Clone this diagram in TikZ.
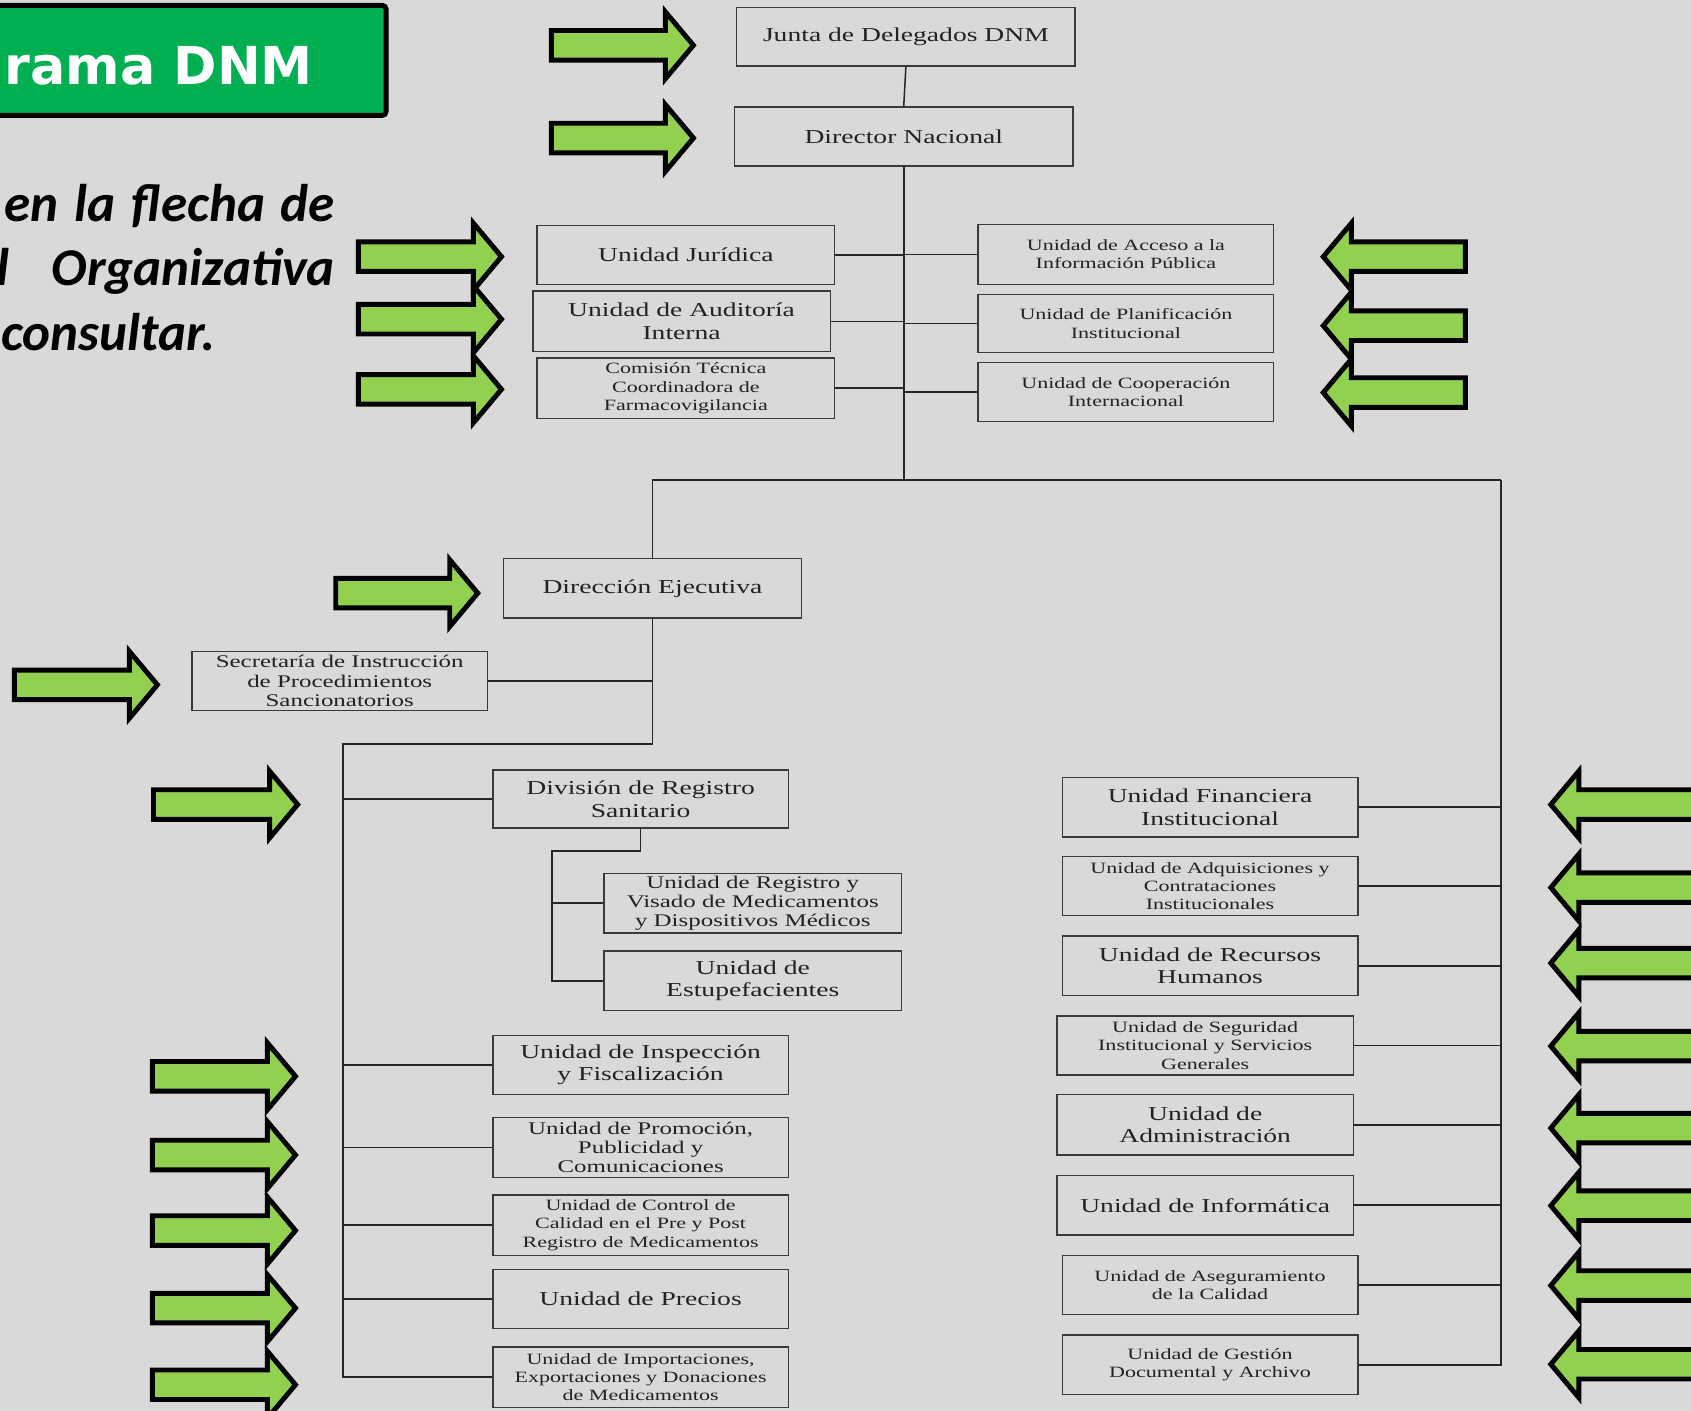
\documentclass[tikz,border=0pt]{standalone}
\usepackage{fontspec}
\setmainfont{Liberation Serif}
\newfontfamily\orgfont[FakeStretch=1.4]{Liberation Serif}
\newfontfamily\calib{Carlito}
\newfontfamily\titlefont{DejaVu Sans}
\definecolor{bg}{HTML}{D9D9D9}
\definecolor{tgreen}{HTML}{00B050}
\definecolor{agreen}{HTML}{92D050}
\definecolor{boxline}{HTML}{3A3A3A}
\definecolor{txt}{HTML}{222222}
\tikzset{
  orgbox/.style={draw=boxline, line width=0.8pt, inner sep=0pt, align=center, text=txt},
  fontL/.style={font=\orgfont\fontsize{10.4pt}{11.9pt}\selectfont},
  fontM/.style={font=\orgfont\fontsize{9.4pt}{10.2pt}\selectfont},
  fontS/.style={font=\orgfont\fontsize{8.3pt}{9.6pt}\selectfont},
  conn/.style={draw=black!85, line width=0.8pt},
  blockarrow/.style={fill=agreen, draw=black, line width=2.6pt, line join=miter},
  note/.style={font=\calib\bfseries\itshape\fontsize{28pt}{32pt}\selectfont, inner sep=0pt, text=black}
}
\newcommand{\ob}[7]{%
  \node[orgbox,#6, minimum width={(#4-#2)*0.02cm}, minimum height={(#5-#3)*0.02cm}] (#1) at ({(#2+#4)/2},{(#3+#5)/2}) {#7};}
\newcommand{\rarr}[3]{%
  \draw[blockarrow] ({#1+2.3},{#3-13.7}) -- ({#2-29},{#3-13.7}) -- ({#2-29},{#3-31}) -- ({#2-3},#3) -- ({#2-29},{#3+31}) -- ({#2-29},{#3+13.7}) -- ({#1+2.3},{#3+13.7}) -- cycle;}
\newcommand{\larr}[3]{%
  \draw[blockarrow] ({#1-2.3},{#3-13.7}) -- ({#2+29},{#3-13.7}) -- ({#2+29},{#3-31}) -- ({#2+3},#3) -- ({#2+29},{#3+31}) -- ({#2+29},{#3+13.7}) -- ({#1-2.3},{#3+13.7}) -- cycle;}
\begin{document}
\begin{tikzpicture}[x=0.02cm, y=-0.02cm]
\clip (0,0) rectangle (1568,1308);
\fill[bg] (0,0) rectangle (1568,1308);
% title
\draw[fill=tgreen, draw=black, line width=2.6pt, rounded corners=2pt] (-20,5) rectangle (358,107);
\node (title) [anchor=base west, inner sep=0pt, text=white, font=\titlefont\bfseries\fontsize{27.6pt}{32pt}\selectfont] at (4,78) {rama DNM};
\node (l1) [note, anchor=base east] at (311,205) {en\hspace{0.3em}la\hspace{0.3em}flecha\hspace{0.3em}de};
\node (l2a) [note, anchor=base west] at (-4,265) {l};
\node (l2b) [note, anchor=base east] at (311,265) {Organizativa};
\node (l3) [note, anchor=base west] at (1,325) {consultar.};
% boxes
\ob{junta}{683}{7}{997}{61}{fontL}{Junta de Delegados DNM}
\ob{director}{681}{99}{995}{154}{fontL}{Director Nacional}
\ob{jur}{498}{209}{774}{264}{fontL}{Unidad Jurídica}
\ob{aud}{494}{270}{770}{326}{fontL}{Unidad de Auditoría\\Interna}
\ob{com}{498}{332}{774}{388}{fontS}{Comisión Técnica\\Coordinadora de\\Farmacovigilancia}
\ob{acc}{907}{208}{1181}{264}{fontS}{Unidad de Acceso a la\\Información Pública}
\ob{plan}{907}{273}{1181}{327}{fontS}{Unidad de Planificación\\Institucional}
\ob{coop}{907}{336}{1181}{391}{fontS}{Unidad de Cooperación\\Internacional}
\ob{direj}{467}{518}{743}{573}{fontL}{Dirección Ejecutiva}
\ob{secr}{178}{604}{452}{659}{fontM}{Secretaría de Instrucción\\de Procedimientos\\Sancionatorios}
\ob{div}{457}{714}{731}{768}{fontL}{División de Registro\\Sanitario}
\ob{visado}{560}{810}{836}{865}{fontM}{Unidad de Registro y\\Visado de Medicamentos\\y Dispositivos Médicos}
\ob{estup}{560}{882}{836}{937}{fontL}{Unidad de\\Estupefacientes}
\ob{insp}{457}{960}{731}{1015}{fontL}{Unidad de Inspección\\y Fiscalización}
\ob{promo}{457}{1036}{731}{1092}{fontM}{Unidad de Promoción,\\Publicidad y\\Comunicaciones}
\ob{control}{457}{1108}{731}{1164}{fontS}{Unidad de Control de\\Calidad en el Pre y Post\\Registro de Medicamentos}
\ob{precios}{457}{1177}{731}{1232}{fontL}{Unidad de Precios}
\ob{import}{457}{1249}{731}{1305}{fontS}{Unidad de Importaciones,\\Exportaciones y Donaciones\\de Medicamentos}
\ob{fin}{985}{721}{1259}{776}{fontL}{Unidad Financiera\\Institucional}
\ob{adq}{985}{794}{1259}{849}{fontS}{Unidad de Adquisiciones y\\Contrataciones\\Institucionales}
\ob{rh}{985}{868}{1259}{923}{fontL}{Unidad de Recursos\\Humanos}
\ob{seg}{980}{942}{1255}{997}{fontS}{Unidad de Seguridad\\Institucional y Servicios\\Generales}
\ob{adm}{980}{1015}{1255}{1071}{fontL}{Unidad de\\Administración}
\ob{inf}{980}{1090}{1255}{1145}{fontL}{Unidad de Informática}
\ob{aseg}{985}{1164}{1259}{1219}{fontS}{Unidad de Aseguramiento\\de la Calidad}
\ob{gest}{985}{1238}{1259}{1293}{fontS}{Unidad de Gestión\\Documental y Archivo}
% connectors
\coordinate (hub) at (838,445);
\coordinate (rTop) at (1392,445);
\coordinate (lTrunk) at (318,690);
\coordinate (dsub) at (512,789);
\draw[conn] (junta.south) -- (director.north);
\draw[conn] (director.south) -- (hub);
\foreach \n in {jur,aud,com}{\draw[conn] (\n.east) -- (\n.east -| hub);}
\foreach \n in {acc,plan,coop}{\draw[conn] (\n.west) -- (\n.west -| hub);}
\draw[conn] (direj.north |- hub) -- (rTop);
\draw[conn] (direj.north) -- (direj.north |- hub);
\draw[conn] (rTop) |- (gest.east);
\foreach \n in {fin,adq,rh,seg,adm,inf,aseg}{\draw[conn] (\n.east) -- (\n.east -| rTop);}
\draw[conn] (direj.south) |- (lTrunk) |- (import.west);
\draw[conn] (secr.east) -- (secr.east -| direj.south);
\foreach \n in {div,insp,promo,control,precios}{\draw[conn] (\n.west) -- (\n.west -| lTrunk);}
\draw[conn] (div.south) |- (dsub) |- (estup.west);
\draw[conn] (visado.west) -- (visado.west -| dsub);
% arrows
\rarr{509}{646}{42}
\rarr{509}{646}{128}
\rarr{330}{468}{238}
\rarr{330}{468}{296}
\rarr{330}{468}{361}
\larr{1361}{1224}{238}
\larr{1361}{1224}{302}
\larr{1361}{1224}{364}
\rarr{309}{446}{550}
\rarr{11}{149}{635}
\rarr{140}{279}{746}
\rarr{139}{277}{998}
\rarr{139}{277}{1071}
\rarr{139}{277}{1141}
\rarr{139}{277}{1213}
\rarr{139}{277}{1284}
\larr{1620}{1435}{746}
\larr{1620}{1435}{823}
\larr{1620}{1435}{893}
\larr{1620}{1435}{970}
\larr{1620}{1435}{1046}
\larr{1620}{1435}{1118}
\larr{1620}{1435}{1192}
\larr{1620}{1435}{1265}
\end{tikzpicture}
\end{document}
